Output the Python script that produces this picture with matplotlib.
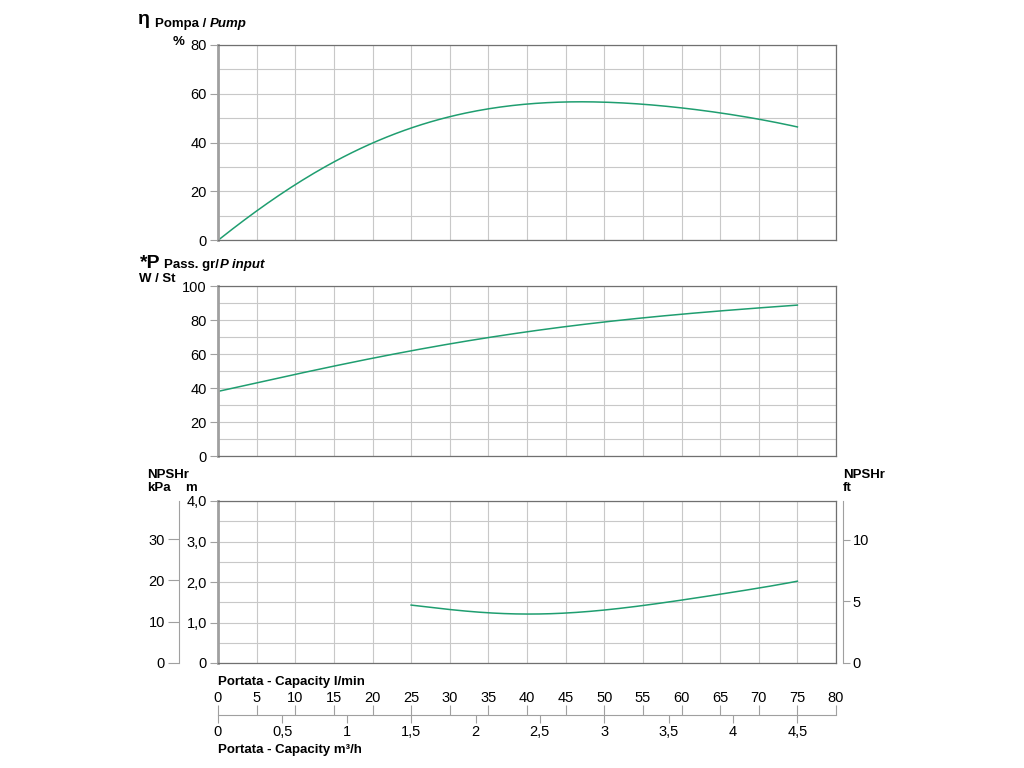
import numpy as np
import matplotlib
matplotlib.use("Agg")
import matplotlib.pyplot as plt
from matplotlib.ticker import FixedLocator, MultipleLocator

plt.rcParams["font.family"] = ["Liberation Sans", "DejaVu Sans"]

# Data (flow in l/min)
flow_eff = [0, 5, 10, 15, 20, 25, 30, 35, 40, 45, 50, 55, 60, 65, 70, 75]
eff = [0, 11.5, 23.0, 32.0, 39.8, 46.0, 50.5, 53.7, 55.8, 56.6, 56.6, 55.8, 54.2, 52.0, 49.6, 46.4]

flow_pow = [0, 10, 20, 30, 40, 50, 60, 70, 75]
power = [38, 48, 57.5, 66, 73, 78.8, 83.5, 87, 88.8]

flow_npsh = [25, 30, 35, 40, 45, 50, 55, 60, 65, 70, 75]
npsh = [1.43, 1.32, 1.24, 1.21, 1.23, 1.31, 1.42, 1.55, 1.70, 1.85, 2.02]

lmin_ticks = list(range(0, 85, 5))
m3h_ticks = [0, 0.5, 1, 1.5, 2, 2.5, 3, 3.5, 4, 4.5]
m3h_labels = ["0", "0,5", "1", "1,5", "2", "2,5", "3", "3,5", "4", "4,5"]

green = "#1f9e70"
grid_c = "#c8c8c8"
W, H = 1024, 768


def fx(px):
    return px / W


def fy(py):
    return 1 - py / H


def smooth(x, y):
    xs = np.linspace(x[0], x[-1], 200)
    cs = np.polyfit(x, y, min(len(x) - 1, 5))
    return xs, np.polyval(cs, xs)


fig = plt.figure(figsize=(10.24, 7.68), dpi=100)

x0, x1 = 218, 836


def panel(top, bottom, ymax, ymajor, yminor):
    ax = fig.add_axes([fx(x0), fy(bottom), fx(x1 - x0), (bottom - top) / H])
    ax.set_xlim(0, 80)
    ax.set_ylim(0, ymax)
    ax.xaxis.set_major_locator(MultipleLocator(5))
    ax.yaxis.set_major_locator(MultipleLocator(ymajor))
    ax.yaxis.set_minor_locator(MultipleLocator(yminor))
    ax.grid(True, which="both", color=grid_c, lw=0.8)
    ax.set_axisbelow(True)
    ax.tick_params(axis="x", labelbottom=False, length=0)
    ax.tick_params(axis="y", which="minor", length=0)
    ax.tick_params(axis="y", labelsize=10.5, length=6, color="#a0a0a0", pad=2)
    for s in ax.spines.values():
        s.set_color("#707070")
        s.set_linewidth(0.9)
    ax.spines["left"].set_color("#a0a0a0")
    ax.spines["left"].set_linewidth(2)
    return ax


# Efficiency
ax1 = panel(45, 240, 80, 20, 10)
xs, ys = smooth(flow_eff, eff)
ax1.plot(xs, ys, color=green, lw=1.1)

# Power input
ax2 = panel(286, 456, 100, 20, 10)
xs, ys = smooth(flow_pow, power)
ax2.plot(xs, ys, color=green, lw=1.1)

# NPSHr
ax3 = panel(501, 663, 4.0, 1.0, 0.5)
ax3.yaxis.set_major_locator(FixedLocator([0, 1, 2, 3, 4]))
ax3.set_yticklabels(["0", "1,0", "2,0", "3,0", "4,0"])
xs, ys = smooth(flow_npsh, npsh)
ax3.plot(xs, ys, color=green, lw=1.1)

# kPa axis
axk = fig.add_axes([fx(179), fy(663), 0.0001, (663 - 501) / H])
axk.set_ylim(0, 4.0 * 9.80665)
axk.set_xticks([])
axk.yaxis.set_major_locator(FixedLocator([0, 10, 20, 30]))
axk.tick_params(axis="y", labelsize=10.5, length=8, color="#a0a0a0", pad=2)
for k, s in axk.spines.items():
    s.set_visible(k == "left")
axk.spines["left"].set_color("#a0a0a0")
axk.patch.set_visible(False)

# ft axis
axf = fig.add_axes([fx(843), fy(663), 0.0001, (663 - 501) / H])
axf.set_ylim(0, 4.0 / 0.3048)
axf.set_xticks([])
axf.yaxis.tick_right()
axf.yaxis.set_major_locator(FixedLocator([0, 5, 10]))
axf.tick_params(axis="y", labelsize=10.5, length=5, color="#a0a0a0", pad=2)
for k, s in axf.spines.items():
    s.set_visible(k == "right")
axf.spines["right"].set_color("#a0a0a0")
axf.patch.set_visible(False)

# Capacity axis (l/min above, m3/h below)
axc = fig.add_axes([fx(x0), fy(715), fx(x1 - x0), 0.0001])
axc.set_xlim(0, 80)
axc.set_yticks([])
for k, s in axc.spines.items():
    s.set_visible(k == "bottom")
axc.spines["bottom"].set_color("#a0a0a0")
axc.xaxis.tick_top()
axc.set_xticks(lmin_ticks)
axc.tick_params(axis="x", labelsize=10.5, length=7, color="#a0a0a0", pad=0,
                direction="out")
axc.patch.set_visible(False)
axm = axc.secondary_xaxis("bottom", functions=(lambda q: q * 0.06, lambda q: q / 0.06))
axm.spines["bottom"].set_visible(False)
axm.set_xticks(m3h_ticks)
axm.set_xticklabels(m3h_labels)
axm.tick_params(axis="x", labelsize=10.5, length=6, color="#a0a0a0", pad=1)

# Header texts
b = dict(fontweight="bold", fontsize=9.5, va="baseline")
renderer = fig.canvas.get_renderer()


def two_part(x, y, first, second, gap=1, **kw):
    t = fig.text(fx(x), fy(y), first, **kw)
    bb = t.get_window_extent(renderer)
    fig.text((bb.x1 + gap) / W, fy(y), second, style="italic", **kw)


fig.text(fx(138), fy(24), "η", fontweight="bold", fontsize=14, va="baseline")
two_part(155, 27, "Pompa /", "Pump", gap=4, **b)
fig.text(fx(173), fy(45), "%", **b)

fig.text(fx(140), fy(268), "*P", fontweight="bold", fontsize=14, va="baseline")
two_part(164, 268, "Pass. gr/", "P input", **b)
fig.text(fx(139), fy(282), "W / St", **b)

fig.text(fx(147), fy(478), "NPSHr", **b)
fig.text(fx(147), fy(491), "kPa", **b)
fig.text(fx(185), fy(491), "m", **b)
fig.text(fx(843), fy(478), "NPSHr", **b)
fig.text(fx(843), fy(491), "ft", **b)

fig.text(fx(218), fy(685), "Portata - Capacity l/min", **b)
fig.text(fx(218), fy(753), "Portata - Capacity m³/h", **b)

fig.savefig("out.png", dpi=100)
